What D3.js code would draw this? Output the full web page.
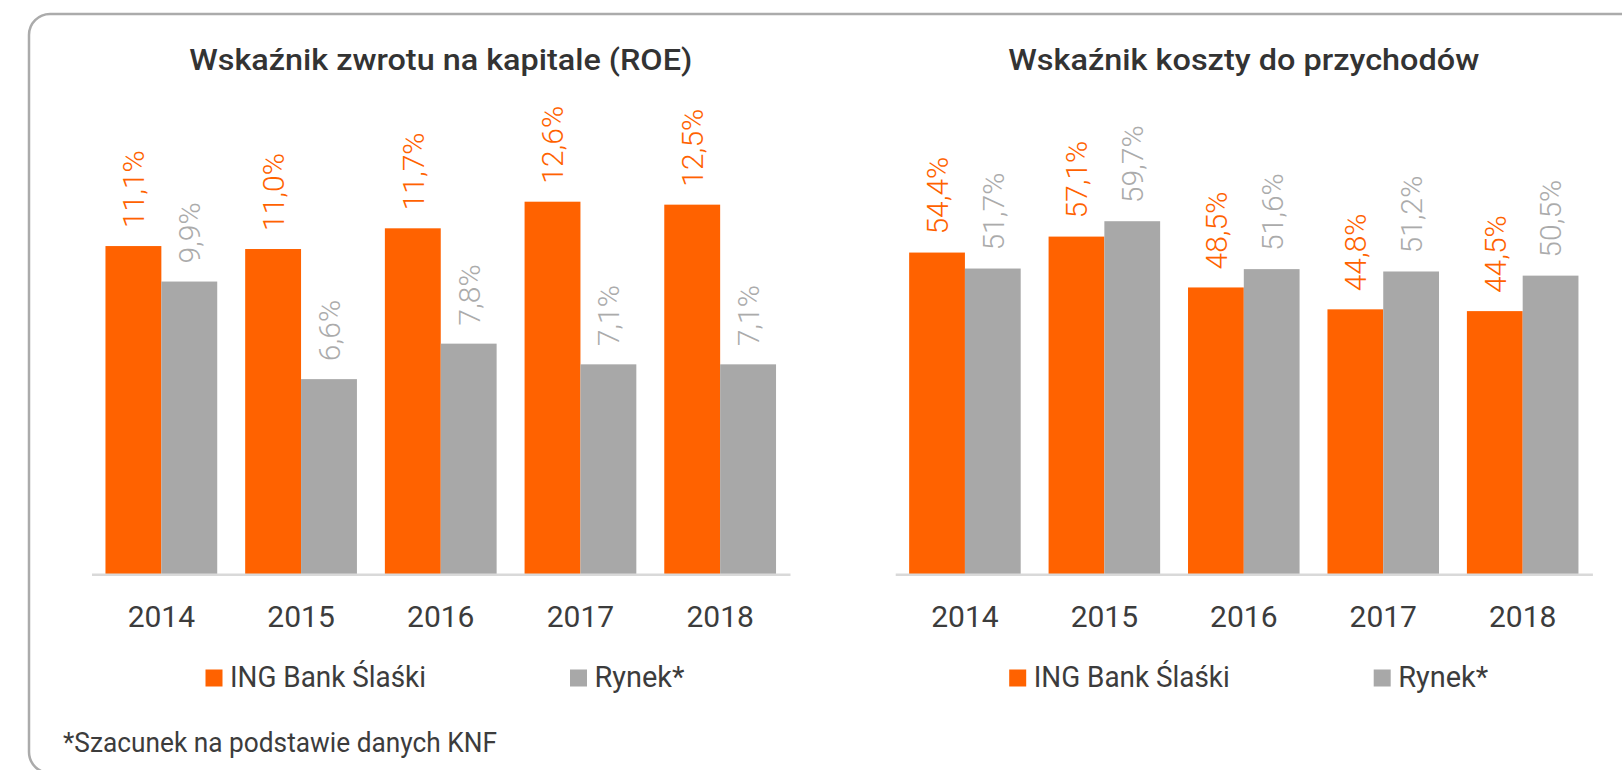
<!DOCTYPE html>
<html>
<head>
<meta charset="utf-8">
<script src="https://cdn.jsdelivr.net/npm/d3@7"></script>
<style>
  body { margin: 0; background: #fff; }
  svg { display: block; }
</style>
</head>
<body>
<div id="chart"></div>
<script>
// data
var years = ["2014", "2015", "2016", "2017", "2018"];
var seriesNames = ["ING Bank Ślaśki", "Rynek*"];
var seriesColors = ["#FF6200", "#A8A8A8"];
var labelColors = ["#FF6200", "#ABABAB"];

var roeIng = [11.1, 11.0, 11.7, 12.6, 12.5];
var roeMarket = [9.9, 6.6, 7.8, 7.1, 7.1];
var ciIng = [54.4, 57.1, 48.5, 44.8, 44.5];
var ciMarket = [51.7, 59.7, 51.6, 51.2, 50.5];

var W = 1622, H = 770;

var svg = d3.select("#chart")
  .append("svg")
    .attr("width", W)
    .attr("height", H)

// rounded frame, runs off the right and bottom edge
svg.append("rect")
    .attr("x", 29)
    .attr("y", 14)
    .attr("width", W + 40)
    .attr("height", 759)
    .attr("rx", 21)
    .style("fill", "none")
    .style("stroke", "#ABABAB")
    .style("stroke-width", 2.5)

var baseY = 574.3, topY = 160.3;
var fmt = function(v) { return v.toFixed(1).replace(".", ",") + "%"; }

function drawPanel(opt) {
  var x = d3.scaleBand()
    .domain(years)
    .range([opt.x0, opt.x1])
    .paddingInner(0.2)
    .paddingOuter(0.1)

  var x1 = d3.scaleBand()
    .domain([0, 1])
    .range([0, x.bandwidth()])

  var y = d3.scaleLinear()
    .domain([0, opt.max])
    .range([baseY, topY])

  var g = svg.append("g")

  // title
  g.append("text")
      .attr("x", (opt.x0 + opt.x1) / 2)
      .attr("y", 70)
      .attr("text-anchor", "middle")
      .attr("textLength", opt.titleLen)
      .attr("lengthAdjust", "spacingAndGlyphs")
      .style("font-family", "Roboto, sans-serif")
      .style("font-weight", 500)
      .style("font-size", "30px")
      .style("fill", "#333333")
      .text(opt.title)

  var rows = years.map(function(yr, i) {
    return [{year: yr, s: 0, v: opt.a[i]}, {year: yr, s: 1, v: opt.b[i]}]
  })
  var flat = [].concat.apply([], rows)

  g.append("g")
    .selectAll("rect")
    .data(flat)
    .enter()
    .append("rect")
      .attr("x", function(d) { return x(d.year) + x1(d.s); })
      .attr("y", function(d) { return y(d.v); })
      .attr("width", x1.bandwidth())
      .attr("height", function(d) { return y(0) - y(d.v); })
      .style("fill", function(d) { return seriesColors[d.s]; })

  // value labels, rotated
  g.append("g")
    .selectAll("text")
    .data(flat)
    .enter()
    .append("text")
      .attr("transform", function(d) {
        var cx = x(d.year) + x1(d.s) + x1.bandwidth() / 2;
        return "translate(" + cx + "," + (y(d.v) - 18) + ") rotate(-90)";
      })
      .attr("dy", "0.36em")
      .attr("text-anchor", "start")
      .style("font-family", "Roboto, sans-serif")
      .style("font-weight", 300)
      .style("font-size", "30px")
      .style("fill", function(d) { return labelColors[d.s]; })
      .text(function(d) { return fmt(d.v); })

  // x axis
  var xAxis = g.append("g")
    .attr("transform", "translate(0," + baseY + ")")
    .call(d3.axisBottom(x).tickSize(0).tickSizeOuter(0).tickPadding(31))
  xAxis.select(".domain")
    .style("stroke", "#D9D9D9")
    .style("stroke-width", 2.5)
  xAxis.selectAll("text")
    .style("font-family", "Roboto, sans-serif")
    .style("font-size", "30px")
    .style("fill", "#3C3C3C")

  // legend
  var legX = [opt.x0 + 114, opt.x0 + 478.5];
  var legLen = [196, 90];
  seriesNames.forEach(function(name, i) {
    g.append("rect")
        .attr("x", legX[i])
        .attr("y", 669.5)
        .attr("width", 17)
        .attr("height", 17)
        .style("fill", seriesColors[i])
    g.append("text")
        .attr("x", legX[i] + 24.5)
        .attr("y", 687)
        .attr("textLength", legLen[i])
        .attr("lengthAdjust", "spacingAndGlyphs")
        .style("font-family", "Roboto, sans-serif")
        .style("font-size", "29px")
        .style("fill", "#3C3C3C")
        .text(name)
  })
}

drawPanel({x0: 91.5, x1: 790, max: 14, a: roeIng, b: roeMarket,
  title: "Wskaźnik zwrotu na kapitale (ROE)", titleLen: 503})
drawPanel({x0: 895.2, x1: 1592.4, max: 70, a: ciIng, b: ciMarket,
  title: "Wskaźnik koszty do przychodów", titleLen: 471})

// footnote
svg.append("text")
    .attr("x", 63)
    .attr("y", 752)
    .attr("textLength", 434)
    .attr("lengthAdjust", "spacingAndGlyphs")
    .style("font-family", "Roboto, sans-serif")
    .style("font-size", "27px")
    .style("fill", "#3C3C3C")
    .text("*Szacunek na podstawie danych KNF")
</script>
</body>
</html>
